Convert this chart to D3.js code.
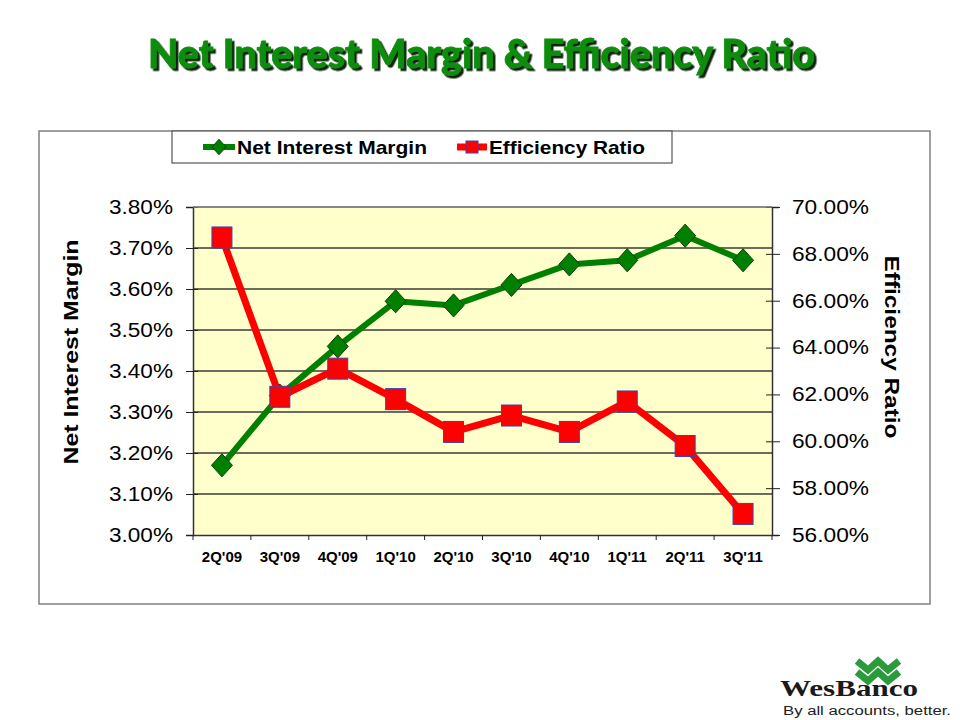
<!DOCTYPE html>
<html><head><meta charset="utf-8">
<script src="https://cdn.jsdelivr.net/npm/d3@7"></script>
<style>
html,body{margin:0;padding:0;background:#fff;}
svg{display:block;font-family:"Liberation Sans",Arial,sans-serif;}
</style></head>
<body>
<svg id="chart" width="960" height="720"></svg>
<script>
const categories = ["2Q'09","3Q'09","4Q'09","1Q'10","2Q'10","3Q'10","4Q'10","1Q'11","2Q'11","3Q'11"];
const nimValues = [3.17,3.34,3.46,3.57,3.56,3.61,3.66,3.67,3.73,3.67];
const effValues = [68.7,61.9,63.1,61.8,60.4,61.1,60.4,61.7,59.8,56.9];
const leftTicks = [3.0,3.1,3.2,3.3,3.4,3.5,3.6,3.7,3.8];
const rightTicks = [56,58,60,62,64,66,68,70];
const titleText = "Net Interest Margin & Efficiency Ratio";
const seriesNames = ["Net Interest Margin","Efficiency Ratio"];

const svg = d3.select("#chart");
const L = 193, R = 772, T = 207, B = 535;
const green = "#008000", red = "#ff0000";

const defs = svg.append("defs");
const f = defs.append("filter").attr("id","shadow").attr("x","-5%").attr("y","-20%").attr("width","110%").attr("height","150%");
f.append("feDropShadow").attr("dx",2.5).attr("dy",2.5).attr("stdDeviation",0.6).attr("flood-color","#0b220b").attr("flood-opacity",1);

// title
svg.append("text").attr("x",148).attr("y",68)
  .attr("textLength",667).attr("lengthAdjust","spacingAndGlyphs")
  .attr("font-family","Lato, 'Open Sans', sans-serif").attr("font-weight",900)
  .attr("font-size",39).attr("fill","#0a8c0a").attr("stroke","#0a8c0a").attr("stroke-width",0.8)
  .attr("filter","url(#shadow)").text(titleText);

// chart border
svg.append("rect").attr("x",39).attr("y",131).attr("width",891).attr("height",473)
  .attr("fill","#fff").attr("stroke","#808080").attr("stroke-width",1.5);

const x = d3.scaleBand().domain(categories).range([L,R]).padding(0);
const yL = d3.scaleLinear().domain([3.0,3.8]).range([B,T]);
const yR = d3.scaleLinear().domain([56,70]).range([B,T]);
const cx = c => x(c) + x.bandwidth()/2;

// plot background
svg.append("rect").attr("x",L).attr("y",T).attr("width",R-L).attr("height",B-T).attr("fill","#ffffcc");

// gridlines
svg.append("g").selectAll("line").data(leftTicks.slice(1)).join("line")
  .attr("x1",L).attr("x2",R).attr("y1",d=>yL(d)).attr("y2",d=>yL(d))
  .attr("stroke",(d,i)=> i===leftTicks.length-2 ? "#808080" : "#3a3a3a").attr("stroke-width",1.3);

// left axis
const ga = svg.append("g").attr("transform",`translate(${L},0)`)
  .call(d3.axisLeft(yL).tickValues(leftTicks).tickSize(7).tickPadding(13).tickFormat(d=>d3.format(".2f")(d)+"%"));
ga.select(".domain").attr("stroke","#333").attr("stroke-width",1.5);
ga.selectAll(".tick line").attr("x1",5).attr("x2",-7).attr("stroke","#222");
ga.selectAll(".tick text").attr("font-size",20).attr("fill","#000")
  .attr("textLength",64).attr("lengthAdjust","spacingAndGlyphs").attr("font-family","'Liberation Sans',Arial,sans-serif");

// right axis
const gr = svg.append("g").attr("transform",`translate(${R},0)`)
  .call(d3.axisRight(yR).tickValues(rightTicks).tickSize(7).tickPadding(13).tickFormat(d=>d3.format(".2f")(d)+"%"));
gr.select(".domain").attr("stroke","#333").attr("stroke-width",1.5);
gr.selectAll(".tick line").attr("x1",-6).attr("x2",8).attr("stroke","#222");
gr.selectAll(".tick text").attr("font-size",20).attr("fill","#000")
  .attr("textLength",77).attr("lengthAdjust","spacingAndGlyphs").attr("font-family","'Liberation Sans',Arial,sans-serif");

// top plot border
svg.append("line").attr("x1",L).attr("x2",R).attr("y1",T).attr("y2",T).attr("stroke","#808080").attr("stroke-width",1.5);

// bottom axis
const gb = svg.append("g").attr("transform",`translate(0,${B})`)
  .call(d3.axisBottom(x).tickSize(0).tickPadding(16));
gb.select(".domain").attr("stroke","#333").attr("stroke-width",1.5);
gb.selectAll(".tick text").attr("font-size",15).attr("font-weight","bold").attr("fill","#000")
  .attr("font-family","'Liberation Sans',Arial,sans-serif");
gb.append("g").selectAll("line").data(categories.map(c=>x(c)).concat([R])).join("line")
  .attr("x1",d=>d).attr("x2",d=>d).attr("y1",0).attr("y2",5).attr("stroke","#222");

// axis titles
svg.append("text").attr("transform",`translate(78,352) rotate(-90)`).attr("text-anchor","middle")
  .attr("font-size",20).attr("font-weight","bold").attr("textLength",225).attr("lengthAdjust","spacingAndGlyphs")
  .text("Net Interest Margin");
svg.append("text").attr("transform",`translate(885,347) rotate(90)`).attr("text-anchor","middle")
  .attr("font-size",20).attr("font-weight","bold").attr("textLength",183).attr("lengthAdjust","spacingAndGlyphs")
  .text("Efficiency Ratio");

const diamond = s => `M0,${-s*1.1}L${s},0L0,${s*1.1}L${-s},0Z`;

// NIM series
svg.append("path").datum(nimValues).attr("fill","none").attr("stroke",green).attr("stroke-width",6).attr("stroke-linejoin","round")
  .attr("d",d3.line().x((d,i)=>cx(categories[i])).y(d=>yL(d)));
svg.append("g").selectAll("path").data(nimValues).join("path")
  .attr("transform",(d,i)=>`translate(${cx(categories[i])},${yL(d)})`)
  .attr("d",diamond(10.5)).attr("fill",green).attr("stroke","#0b3d0b").attr("stroke-width",1);

// Efficiency series
svg.append("path").datum(effValues).attr("fill","none").attr("stroke",red).attr("stroke-width",7).attr("stroke-linejoin","round")
  .attr("d",d3.line().x((d,i)=>cx(categories[i])).y(d=>yR(d)));
svg.append("g").selectAll("rect").data(effValues).join("rect")
  .attr("x",(d,i)=>cx(categories[i])-10).attr("y",d=>yR(d)-10.5).attr("width",20).attr("height",21)
  .attr("fill",red).attr("stroke","#4040b0").attr("stroke-width",1);

// legend
svg.append("rect").attr("x",172).attr("y",131).attr("width",500).attr("height",32)
  .attr("fill","#fff").attr("stroke","#555").attr("stroke-width",1.2);
const lg = svg.append("g");
lg.append("line").attr("x1",203).attr("x2",235).attr("y1",147).attr("y2",147).attr("stroke",green).attr("stroke-width",6);
lg.append("path").attr("transform","translate(219,147)").attr("d",diamond(7)).attr("fill",green).attr("stroke","#0b3d0b");
lg.append("text").attr("x",237).attr("y",154).attr("font-size",19).attr("font-weight","bold")
  .attr("textLength",190).attr("lengthAdjust","spacingAndGlyphs").text(seriesNames[0]);
lg.append("line").attr("x1",457).attr("x2",487).attr("y1",147).attr("y2",147).attr("stroke",red).attr("stroke-width",7);
lg.append("rect").attr("x",466).attr("y",141).attr("width",12).attr("height",12).attr("fill",red).attr("stroke","#4040b0");
lg.append("text").attr("x",489).attr("y",154).attr("font-size",19).attr("font-weight","bold")
  .attr("textLength",156).attr("lengthAdjust","spacingAndGlyphs").text(seriesNames[1]);

// logo
const logo = svg.append("g");
const chev = (y0) => `M857,${y0} L868,${y0+9} L878,${y0} L888,${y0+9} L899,${y0}`;
logo.append("path").attr("d",chev(661)).attr("fill","none").attr("stroke","#2a9a3a").attr("stroke-width",7).attr("stroke-linejoin","miter");
logo.append("path").attr("d",chev(672)).attr("fill","none").attr("stroke","#2a9a3a").attr("stroke-width",7).attr("stroke-linejoin","miter");
logo.append("text").attr("x",780).attr("y",696).attr("font-family","'Liberation Serif','DejaVu Serif',serif")
  .attr("font-weight","bold").attr("font-size",24).attr("textLength",138).attr("lengthAdjust","spacingAndGlyphs")
  .attr("fill","#1a1a1a").text("WesBanco");
logo.append("text").attr("x",783).attr("y",715).attr("font-size",12).attr("fill","#222")
  .attr("textLength",168).attr("lengthAdjust","spacingAndGlyphs").text("By all accounts, better.");
</script>
</body></html>
